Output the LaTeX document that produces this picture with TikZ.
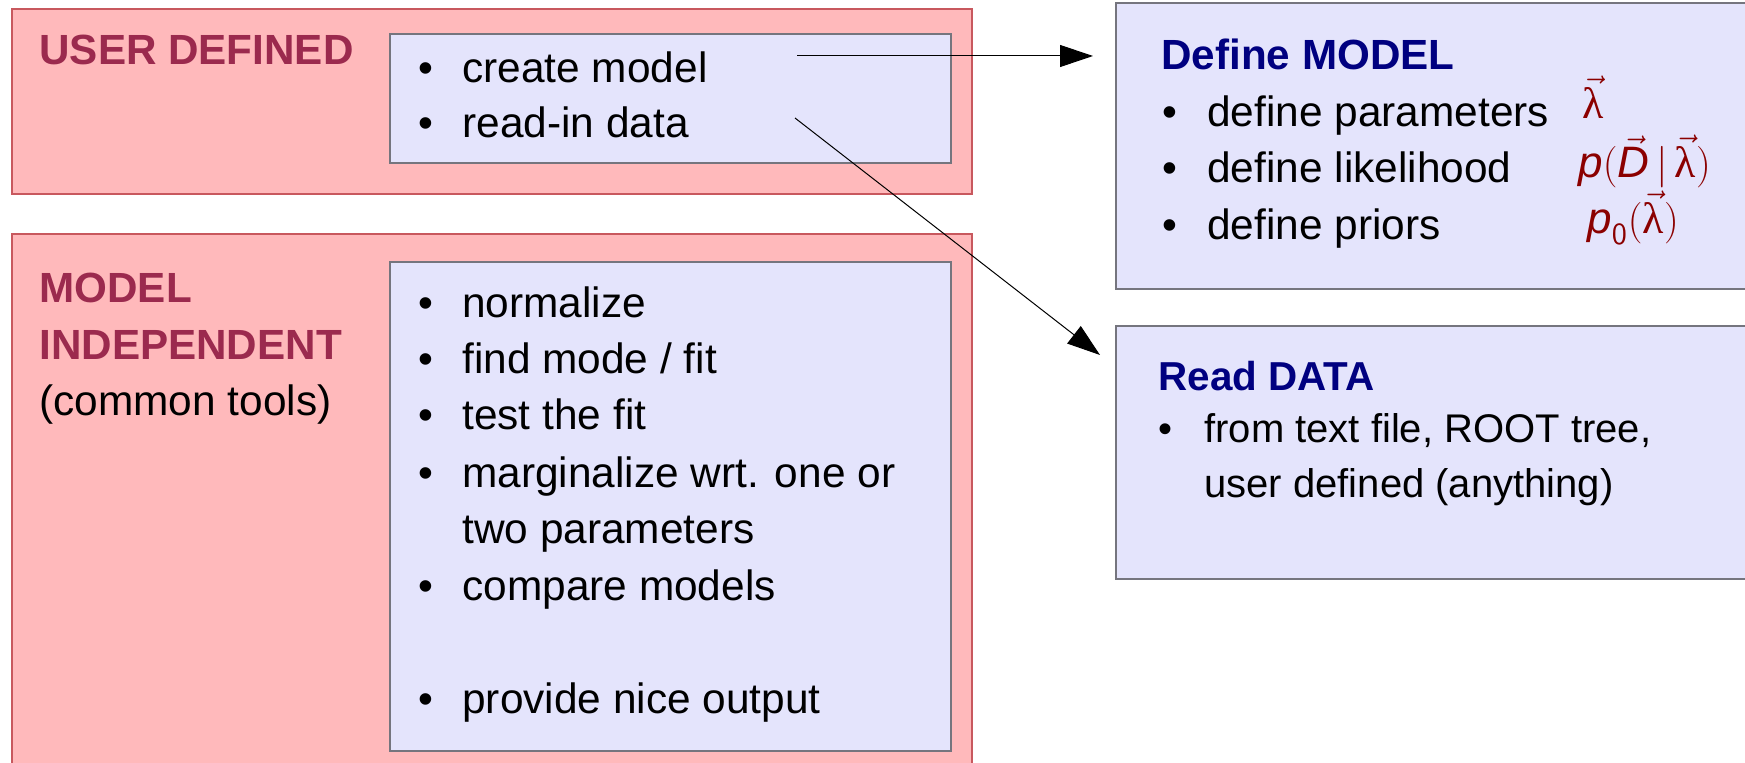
\documentclass[tikz,border=0pt]{standalone}
\usepackage{fontspec}
\setmainfont{Liberation Sans}
\newfontfamily\lamfont{Liberation Serif}
\usetikzlibrary{arrows.meta}
\definecolor{pinkfill}{HTML}{FFB9BB}
\definecolor{pinkline}{HTML}{C8585E}
\definecolor{bluefill}{HTML}{E4E4FC}
\definecolor{blueline}{HTML}{75757E}
\definecolor{titlered}{HTML}{9B2A4E}
\definecolor{titleblue}{HTML}{000080}
\definecolor{mathred}{HTML}{8B0000}
\tikzset{
  pinkbox/.style={draw=pinkline, fill=pinkfill, line width=0.7pt, anchor=north west, inner sep=0, outer sep=0},
  bluebox/.style={draw=blueline, fill=bluefill, line width=0.7pt, anchor=north west, inner sep=0, outer sep=0},
  body/.style={font=\fontsize{21.2}{25}\selectfont, anchor=base west, inner sep=0},
  smallbody/.style={font=\fontsize{20}{24}\selectfont, anchor=base west, inner sep=0},
  bul/.style={font=\fontsize{21.2}{25}\selectfont, anchor=base, inner sep=0},
  smallbul/.style={font=\fontsize{20}{24}\selectfont, anchor=base, inner sep=0},
  redtitle/.style={font=\fontsize{21.1}{25}\selectfont\bfseries, text=titlered, anchor=base west, inner sep=0},
  bluetitle/.style={font=\fontsize{21.1}{25}\selectfont\bfseries, text=titleblue, anchor=base west, inner sep=0},
  smallbluetitle/.style={font=\fontsize{20.2}{24}\selectfont\bfseries, text=titleblue, anchor=base west, inner sep=0},
  mathlabel/.style={font=\fontsize{22}{26}\selectfont, text=mathred, anchor=base west, inner sep=0},
  link/.style={draw=black, line width=0.5pt, -{Triangle[length=16.5pt, width=11pt]}}
}
\newcommand{\lamvec}{\vec{\hbox{\lamfont λ}}}
\begin{document}
\begin{tikzpicture}[x=0.5pt, y=-0.5pt]
\path[use as bounding box] (0,0) rectangle (1745,763);
\clip (0,0) rectangle (1745,763);

% left boxes
\node[pinkbox, minimum width=480pt, minimum height=92.5pt] (ud) at (12,9) {};
\node[bluebox, minimum width=280.5pt, minimum height=64.5pt] (udlist) at (390,34) {};
\node[pinkbox, minimum width=480pt, minimum height=272pt] (mi) at (12,234) {};
\node[bluebox, minimum width=280.5pt, minimum height=244.5pt] (milist) at (390,262) {};

% right boxes
\node[bluebox, minimum width=322pt, minimum height=143pt] (model) at (1116,3) {};
\node[bluebox, minimum width=322pt, minimum height=126.5pt] (data) at (1116,326) {};

% USER DEFINED
\node[redtitle] (udt) at (39,65) {USER DEFINED};
\node[bul] (b1) at (426,83) {•};
\node[body] (t1) at (462,83) {create model};
\node[bul] (b2) at (426,138) {•};
\node[body] (t2) at (462,138) {read-in data};

% MODEL INDEPENDENT
\node[redtitle] (mit1) at (39,303) {MODEL};
\node[redtitle] (mit2) at (39,360) {INDEPENDENT};
\node[body] (mit3) at (39,416) {(common tools)};
\node[bul] (c1) at (426,318) {•};
\node[body] (d1) at (462,318) {normalize};
\node[bul] (c2) at (426,374) {•};
\node[body] (d2) at (462,374) {find mode / fit};
\node[bul] (c3) at (426,430) {•};
\node[body] (d3) at (462,430) {test the fit};
\node[bul] (c4) at (426,488) {•};
\node[body] (d4) at (462,488) {marginalize wrt. one or};
\node[body] (d5) at (462,544) {two parameters};
\node[bul] (c6) at (426,601) {•};
\node[body] (d6) at (462,601) {compare models};
\node[bul] (c7) at (426,714) {•};
\node[body] (d7) at (462,714) {provide nice output};

% Define MODEL
\node[bluetitle] (mt) at (1161,70) {Define MODEL};
\node[bul] (m1b) at (1170,127) {•};
\node[body] (m1) at (1207,127) {define parameters};
\node[bul] (m2b) at (1170,183) {•};
\node[body] (m2) at (1207,183) {define likelihood};
\node[bul] (m3b) at (1170,240) {•};
\node[body] (m3) at (1207,240) {define priors};
\node[mathlabel] (f1) at (1582,119) {$\lamvec$};
\node[mathlabel] (f2) at (1578,178) {$\textit{p}(\vec{\textit{D}}\,\big|\,\lamvec)$};
\node[mathlabel] (f3) at (1587,234) {$\textit{p}_{\mathsf{0}}(\lamvec)$};

% Read DATA
\node[smallbluetitle] (dt) at (1158,391) {Read DATA};
\node[smallbul] (r1b) at (1165,443) {•};
\node[smallbody] (r1) at (1204,443) {from text file, ROOT tree,};
\node[smallbody] (r2) at (1204,498) {user defined (anything)};

% connectors
\coordinate (s1) at (797,56);
\coordinate (s2) at (795,118);
\coordinate (e2) at (1100,355);
\draw[link, shorten >=11.5pt] (s1) -- (s1 -| model.west);
\draw[link] (s2) -- (e2);
\end{tikzpicture}
\end{document}
